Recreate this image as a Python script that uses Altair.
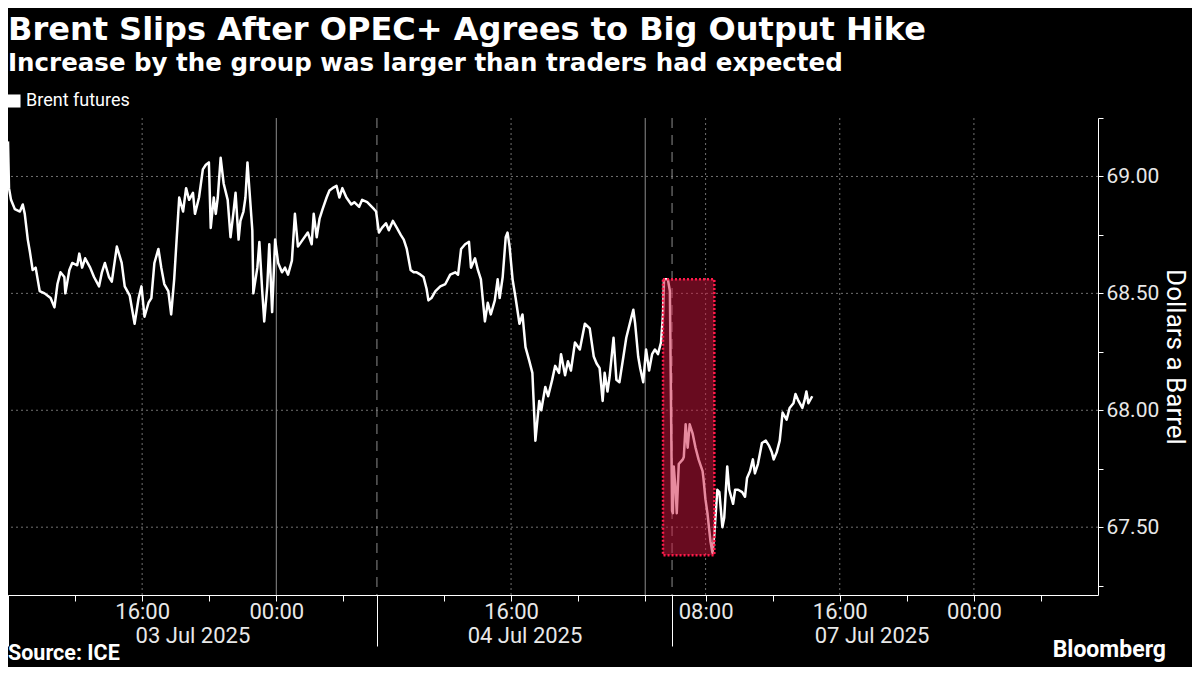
import altair as alt
import pandas as pd

FONT = "Roboto"
TFONT = "DejaVu Sans"

# Brent futures, hours on a trading-time axis (03 Jul 2025 08:00 = 0, non-trading gaps removed)
s1_t = [0.00, 0.06, 0.18, 0.41, 0.71, 0.88, 1.00, 1.18, 1.30, 1.47,
        1.65, 1.89, 2.18, 2.54, 2.77, 2.95, 3.13, 3.36, 3.42, 3.66,
        3.83, 4.13, 4.25, 4.42, 4.60, 4.90, 5.13, 5.43, 5.60, 5.78,
        6.02, 6.19, 6.49, 6.78, 6.96, 7.26, 7.55, 7.79, 7.96, 8.14,
        8.38, 8.55, 8.73, 8.97, 9.14, 9.32, 9.56, 9.73, 9.91, 10.15,
        10.21, 10.44, 10.62, 10.80, 11.03, 11.15, 11.39, 11.62, 11.80, 11.98,
        12.09, 12.27, 12.39, 12.51, 12.68, 12.86, 13.10, 13.27, 13.45, 13.57,
        13.75, 13.86, 14.04, 14.16, 14.28, 14.40, 14.57, 14.63, 14.87, 14.99,
        15.16, 15.28, 15.46, 15.58, 15.75, 15.93, 16.11, 16.34, 16.52, 16.70,
        16.93, 17.11, 17.29, 17.58, 17.88, 18.11, 18.23, 18.41, 18.58, 18.76,
        19.00, 19.17, 19.35, 19.59, 19.76, 19.94, 20.18, 20.47, 20.65, 20.94,
        21.12, 21.42, 21.83, 21.95]
s1_p = [69.15, 68.95, 68.90, 68.86, 68.85, 68.88, 68.84, 68.73, 68.68, 68.60,
        68.61, 68.51, 68.50, 68.48, 68.44, 68.54, 68.59, 68.57, 68.50, 68.60,
        68.63, 68.62, 68.67, 68.61, 68.65, 68.61, 68.57, 68.53, 68.59, 68.63,
        68.57, 68.55, 68.70, 68.63, 68.53, 68.49, 68.37, 68.48, 68.53, 68.40,
        68.46, 68.48, 68.63, 68.69, 68.61, 68.54, 68.51, 68.41, 68.56, 68.84,
        68.91, 68.85, 68.95, 68.90, 68.93, 68.84, 68.91, 69.03, 69.05, 69.06,
        68.78, 68.91, 68.84, 68.91, 69.08, 68.97, 68.90, 68.74, 68.85, 68.93,
        68.73, 68.81, 68.85, 68.91, 69.06, 68.94, 68.77, 68.50, 68.61, 68.72,
        68.51, 68.38, 68.53, 68.71, 68.42, 68.73, 68.63, 68.59, 68.61, 68.58,
        68.64, 68.84, 68.70, 68.73, 68.76, 68.71, 68.84, 68.74, 68.82, 68.86,
        68.91, 68.94, 68.95, 68.96, 68.91, 68.95, 68.91, 68.88, 68.89, 68.87,
        68.90, 68.89, 68.86, 68.85]

s2_t = [22.12, 22.30, 22.54, 22.71, 22.95, 23.19, 23.42, 23.60, 23.78, 24.01,
        24.19, 24.37, 24.60, 24.78, 24.96, 25.07, 25.25, 25.49, 25.78, 26.08,
        26.37, 26.67, 26.84, 27.02, 27.26, 27.49, 27.61, 27.85, 28.02, 28.20,
        28.44, 28.61, 28.79, 29.03, 29.20, 29.32, 29.50, 29.68, 29.79, 29.91,
        30.09, 30.27, 30.50, 30.68, 30.86, 31.09, 31.27, 31.45, 31.68, 31.80,
        32.04, 32.21, 32.45, 32.63, 32.86, 32.98, 33.22, 33.39, 33.57, 33.81,
        34.10, 34.40, 34.69, 34.93, 35.10, 35.28, 35.46, 35.58, 35.75, 35.87,
        36.11, 36.28, 36.46, 36.70, 36.87, 37.11, 37.29, 37.40, 37.58, 37.70,
        37.88, 38.05, 38.23, 38.41, 38.58, 38.76, 38.94, 39.06, 39.12, 39.35,
        39.47]
s2_p = [68.76, 68.78, 68.80, 68.77, 68.81, 68.78, 68.75, 68.73, 68.69, 68.60,
        68.59, 68.59, 68.58, 68.57, 68.52, 68.47, 68.48, 68.51, 68.53, 68.54,
        68.58, 68.59, 68.58, 68.69, 68.71, 68.72, 68.61, 68.65, 68.60, 68.56,
        68.38, 68.46, 68.41, 68.47, 68.56, 68.48, 68.57, 68.74, 68.76, 68.70,
        68.56, 68.48, 68.37, 68.41, 68.27, 68.21, 68.16, 67.87, 68.04, 68.00,
        68.10, 68.06, 68.13, 68.19, 68.16, 68.24, 68.15, 68.21, 68.17, 68.29,
        68.26, 68.37, 68.35, 68.23, 68.20, 68.18, 68.04, 68.16, 68.08, 68.14,
        68.31, 68.13, 68.12, 68.23, 68.31, 68.38, 68.43, 68.37, 68.23, 68.18,
        68.12, 68.26, 68.17, 68.24, 68.26, 68.24, 68.29, 68.41, 68.56, 68.56,
        68.51]

s3_t = [39.60, 39.65, 39.70, 39.82, 39.88, 40.00, 40.24, 40.30, 40.41, 40.53,
        40.65, 40.83, 41.00, 41.18, 41.42, 41.47, 41.59, 41.71, 41.77, 41.89,
        42.01, 42.12, 42.30, 42.42, 42.60, 42.71, 42.89, 43.01, 43.24, 43.36,
        43.54, 43.78, 43.95, 44.07, 44.25, 44.42, 44.54, 44.72, 44.96, 45.19,
        45.37, 45.55, 45.66, 45.84, 46.02, 46.19, 46.43, 46.61, 46.84, 46.96,
        47.14, 47.37, 47.49, 47.61, 47.73, 47.96]
s3_p = [67.57, 67.56, 67.76, 67.65, 67.56, 67.77, 67.79, 67.80, 67.94, 67.84,
        67.94, 67.90, 67.84, 67.79, 67.74, 67.71, 67.62, 67.56, 67.52, 67.44,
        67.39, 67.47, 67.66, 67.65, 67.50, 67.54, 67.76, 67.66, 67.60, 67.66,
        67.66, 67.65, 67.63, 67.71, 67.74, 67.79, 67.73, 67.77, 67.86, 67.87,
        67.85, 67.82, 67.79, 67.82, 67.87, 67.99, 67.96, 68.01, 68.03, 68.07,
        68.04, 68.01, 68.04, 68.08, 68.03, 68.06]

# axis ticks & labels (trading-hour positions)
tick_hours = [0, 4, 8, 12, 16, 20, 22, 26, 30, 34, 38, 39.6, 41.6, 45.6, 49.6, 53.6, 57.6, 61.6]
label_hours = [8, 16, 30, 41.6, 49.6, 57.6]
label_text = ["16:00", "00:00", "16:00", "08:00", "16:00", "00:00"]
session_start = [0, 22, 39.6]
date_center = [11, 30.8, 51.5]
date_text = ["03 Jul 2025", "04 Jul 2025", "07 Jul 2025"]
midnight_hours = [16, 38]
dotted_hours = [8, 30, 41.6, 49.6, 57.6]
y_ticks = [67.25, 67.5, 67.75, 68.0, 68.25, 68.5, 68.75, 69.0, 69.25]
y_grid = [67.5, 68.0, 68.5, 69.0]

# highlighted window after the OPEC+ decision
hl_t = [39.06]
hl_t2 = [42.12]
hl_hi = [68.56]
hl_lo = [67.38]

W, H = 1090, 477

series = pd.DataFrame({"t": s1_t + s2_t + s3_t, "price": s1_p + s2_p + s3_p})
series["series"] = "Brent futures"

xs = alt.Scale(domain=[0, 65], nice=False, zero=False)
ys = alt.Scale(domain=[67.21, 69.25], nice=False, zero=False)


def label_expr(values, labels):
    expr = "''"
    for v, lab in reversed(list(zip(values, labels))):
        expr = f"datum.value == {v} ? '{lab}' : ({expr})"
    return expr


axis_time = alt.Axis(orient="bottom", values=tick_hours, labelExpr=label_expr(label_hours, label_text),
                     tickSize=6, tickColor="#ffffff", tickWidth=1, domain=True, domainColor="#ffffff",
                     domainWidth=1, grid=False, title=None, labelFont=FONT, labelFontSize=22,
                     labelColor="#e8e8e8", labelPadding=0, labelFlush=False, labelOverlap=False,
                     labelBound=False)
axis_session = alt.Axis(orient="bottom", values=session_start, labels=False, tickSize=51,
                        tickColor="#ffffff", tickWidth=1, domain=False, grid=False, title=None)
axis_date = alt.Axis(orient="bottom", values=date_center, labelExpr=label_expr(date_center, date_text),
                     ticks=False, domain=False, grid=False, title=None, labelFont=FONT, labelFontSize=22,
                     labelColor="#e8e8e8", labelPadding=30, labelFlush=False, labelOverlap=False,
                     labelBound=False)
axis_y = alt.Axis(orient="right", values=y_ticks,
                  labelExpr="datum.value % 0.5 == 0 ? format(datum.value, '.2f') : ''",
                  tickSize=5, tickColor="#ffffff", domainColor="#ffffff", grid=False,
                  labelFont=FONT, labelFontSize=21, labelColor="#e8e8e8", labelPadding=3,
                  title="Dollars a Barrel", titleFont=FONT, titleFontSize=26, titleFontWeight="normal",
                  titleColor="#ffffff", titleAngle=90, titlePadding=3)

hgrid = alt.Chart(pd.DataFrame({"v": y_grid})).mark_rule(
    color="#707070", strokeDash=[2, 3], strokeWidth=1).encode(
    y=alt.Y("v:Q", scale=ys, axis=None))
vgrid_dot = alt.Chart(pd.DataFrame({"v": dotted_hours})).mark_rule(
    color="#707070", strokeDash=[2, 3], strokeWidth=1).encode(
    x=alt.X("v:Q", scale=xs, axis=None))
vgrid_mid = alt.Chart(pd.DataFrame({"v": midnight_hours})).mark_rule(
    color="#8c8c8c", strokeWidth=1).encode(
    x=alt.X("v:Q", scale=xs, axis=None))
vgrid_sess = alt.Chart(pd.DataFrame({"v": session_start[1:]})).mark_rule(
    color="#8c8c8c", strokeDash=[10, 7], strokeWidth=1).encode(
    x=alt.X("v:Q", scale=xs, axis=None))
sess_axis_layer = alt.Chart(pd.DataFrame({"v": session_start})).mark_rule(opacity=0).encode(
    x=alt.X("v:Q", scale=xs, axis=axis_session))
date_axis_layer = alt.Chart(pd.DataFrame({"v": date_center})).mark_rule(opacity=0).encode(
    x=alt.X("v:Q", scale=xs, axis=axis_date))

line = alt.Chart(series).mark_line(strokeWidth=2.5, strokeJoin="round").encode(
    x=alt.X("t:Q", scale=xs, axis=axis_time),
    y=alt.Y("price:Q", scale=ys, axis=axis_y),
    color=alt.Color("series:N", scale=alt.Scale(domain=["Brent futures"], range=["#ffffff"]),
                    legend=alt.Legend(orient="none", legendX=-3, legendY=-26, title=None,
                                      symbolType="square", symbolSize=170, symbolFillColor="#ffffff",
                                      symbolStrokeColor="#ffffff", symbolStrokeWidth=0,
                                      labelFont=FONT, labelFontSize=18, labelColor="#ffffff",
                                      labelOffset=3)),
    order="t:Q")

hl = alt.Chart(pd.DataFrame({"t": hl_t, "t2": hl_t2, "hi": hl_hi, "lo": hl_lo})).mark_rect(
    fill="#d0163e", fillOpacity=0.5, stroke="#ff1a4a", strokeWidth=2.5, strokeDash=[2, 2],
    strokeOpacity=1).encode(
    x=alt.X("t:Q", scale=xs, axis=None), x2="t2:Q",
    y=alt.Y("hi:Q", scale=ys, axis=None), y2="lo:Q")

src = alt.Chart(pd.DataFrame({"s": ["Source: ICE"]})).mark_text(
    align="left", baseline="alphabetic", font=FONT, fontSize=21.5, fontWeight="bold", color="#ffffff").encode(
    text="s:N", x=alt.value(0), y=alt.value(542))
brand = alt.Chart(pd.DataFrame({"s": ["Bloomberg"]})).mark_text(
    align="right", baseline="alphabetic", font=FONT, fontSize=23, fontWeight="bold", color="#ffffff").encode(
    text="s:N", x=alt.value(1158), y=alt.value(539))

chart = alt.layer(hgrid, vgrid_dot, vgrid_mid, vgrid_sess, sess_axis_layer, date_axis_layer,
                  line, hl, src, brand).resolve_axis(x="independent", y="independent").properties(
    width=W, height=H,
    padding={"left": 0, "top": 110, "right": 94, "bottom": 72},
    autosize=alt.AutoSizeParams(type="none"),
    background="#000000",
    title=alt.TitleParams(
        text="Brent Slips After OPEC+ Agrees to Big Output Hike",
        subtitle="Increase by the group was larger than traders had expected",
        anchor="start", frame="group", font=TFONT, fontSize=32, fontWeight="bold", color="#ffffff",
        subtitleFont=TFONT, subtitleFontSize=24.5, subtitleFontWeight="bold", subtitleColor="#ffffff",
        offset=16, subtitlePadding=5)
).configure_view(stroke=None)

chart.save("out.html", embed_options={"renderer": "svg", "actions": False})
